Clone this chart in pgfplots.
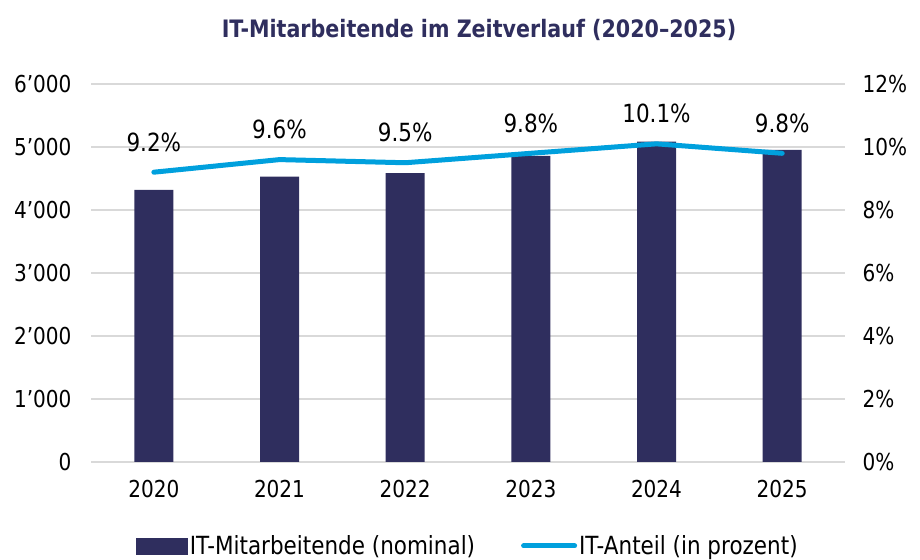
\documentclass[border=0pt]{standalone}
\usepackage{fontspec}
\setmainfont{DejaVu Sans}[FakeStretch=0.86]
\usepackage{pgfplots}
\pgfplotsset{compat=1.18}
\definecolor{navy}{HTML}{2F2E5E}
\definecolor{sky}{HTML}{00A0DD}
\definecolor{gridc}{HTML}{D9D9D9}

\begin{document}
\begin{tikzpicture}
\path[use as bounding box] (0,0) rectangle (920pt,559pt);

% bars, left axis
\begin{axis}[
    at={(91pt,97pt)}, anchor=south west,
    scale only axis, width=754pt, height=378pt,
    xmin=-0.5, xmax=5.5, ymin=0, ymax=6000,
    axis line style={draw=none}, major tick length=0pt,
    xtick={0,1,2,3,4,5},
    xticklabels={2020,2021,2022,2023,2024,2025},
    ytick={0,1000,2000,3000,4000,5000,6000},
    yticklabels={0,1’000,2’000,3’000,4’000,5’000,6’000},
    ymajorgrids, grid style={gridc, line width=1.5pt},
    tick label style={font=\fontsize{23.3}{27}\selectfont},
    xticklabel style={yshift=-15pt},
    yticklabel style={xshift=-16pt},
]
\addplot[ybar, bar width=39pt, fill=navy, draw=none] coordinates {
    (0,4320) (1,4530) (2,4585) (3,4860) (4,5085) (5,4955)
};
\end{axis}

% share line, right axis
\begin{axis}[
    at={(91pt,97pt)}, anchor=south west,
    scale only axis, width=754pt, height=378pt,
    xmin=-0.5, xmax=5.5, ymin=0, ymax=12,
    axis line style={draw=none}, major tick length=0pt,
    xtick=\empty,
    ytick={0,2,4,6,8,10,12},
    yticklabels={0\%,2\%,4\%,6\%,8\%,10\%,12\%},
    yticklabel pos=right,
    tick label style={font=\fontsize{23.3}{27}\selectfont},
    yticklabel style={xshift=14pt},
    legend columns=2,
    legend style={at={(0.5,-0.222)}, anchor=center, draw=none, fill=none,
        font=\fontsize{25}{29}\selectfont,
        /tikz/every even column/.append style={column sep=44pt}},
]
\addlegendimage{legend image code/.code={\fill[navy] (0pt,-8pt) rectangle (51pt,8pt);}}
\addlegendentry{IT-Mitarbeitende (nominal)}
\addplot[sky, line width=5pt, line cap=round, line join=round,
    legend image code/.code={\draw[sky, line width=5pt, line cap=round] (2pt,0pt) -- (53pt,0pt);},
    nodes near coords={\pgfmathprintnumber[fixed,fixed zerofill,precision=1,assume math mode=true]{\pgfplotspointmeta}\%},
    every node near coord/.append style={anchor=center, yshift=30pt, text=black, font=\fontsize{25}{29}\selectfont},
] coordinates {
    (0,9.2) (1,9.6) (2,9.5) (3,9.8) (4,10.1) (5,9.8)
};
\addlegendentry{IT-Anteil (in prozent)}
\end{axis}

\node[font=\bfseries\fontsize{24}{28}\selectfont, text=navy] at (479pt,529pt)
    {IT-Mitarbeitende im Zeitverlauf (2020–2025)};
\end{tikzpicture}
\end{document}
